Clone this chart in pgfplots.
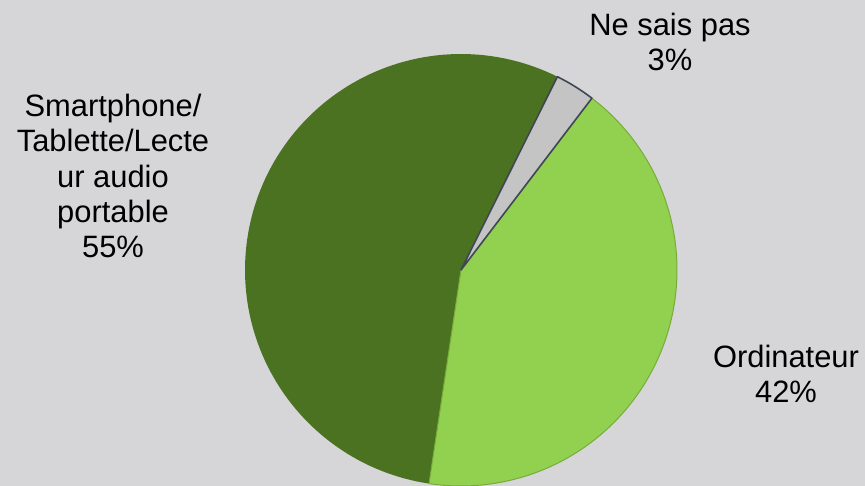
\documentclass[border=0pt]{standalone}
\usepackage{pgfplots}
\usepackage{pgfplotstable}
\usepackage{fontspec}
\setmainfont{Liberation Sans}
\pgfplotsset{compat=1.18}
\definecolor{bg}{HTML}{D6D6D8}
\definecolor{dkgreen}{HTML}{4A7220}
\definecolor{ltgreen}{HTML}{92D050}
\definecolor{ltedge}{HTML}{78AC3A}
\definecolor{grayslice}{HTML}{C4C4C4}
\definecolor{slate}{HTML}{3F4656}
\pgfplotstableread{
label value
Ordinateur 42
NSP 3
Smartphone 55
}\piedata
\begin{document}%
\begin{tikzpicture}[x=1bp,y=1bp]
\pgfplotstablegetelem{0}{value}\of\piedata \global\let\vOrd=\pgfplotsretval
\pgfplotstablegetelem{1}{value}\of\piedata \global\let\vNsp=\pgfplotsretval
\pgfplotstablegetelem{2}{value}\of\piedata \global\let\vSma=\pgfplotsretval
\pgfmathsetmacro{\aStart}{-98.5}
\pgfmathsetmacro{\aOrd}{\aStart+3.6*\vOrd}
\pgfmathsetmacro{\aNsp}{\aOrd+3.6*\vNsp}
\pgfmathsetmacro{\aSma}{\aNsp+3.6*\vSma}
\fill[bg] (0,0) rectangle (865bp,486bp);
\begin{axis}[
  at={(0,0)}, anchor=south west,
  scale only axis,
  width=865bp, height=486bp,
  xmin=0, xmax=865, ymin=0, ymax=486,
  hide axis,
  clip=true,
]
% Smartphone
\addplot[fill=dkgreen, draw=none, domain=\aNsp:\aSma, samples=120, variable=\t]
  ({461+216*cos(t)},{216+216*sin(t)}) -- (axis cs:461,216) -- cycle;
% Ordinateur
\addplot[fill=ltgreen, draw=ltedge, line width=1bp, domain=\aStart:\aOrd, samples=120, variable=\t]
  ({461+216*cos(t)},{216+216*sin(t)}) -- (axis cs:461,216) -- cycle;
% Ne sais pas
\addplot[fill=grayslice, draw=slate, line width=1.6bp, line join=round, domain=\aOrd:\aNsp, samples=20, variable=\t]
  ({461+216*cos(t)},{216+216*sin(t)}) -- (axis cs:461,216) -- cycle;

\node[font=\fontsize{31}{35.5}\selectfont, align=center, text=black] at (axis cs:113,310)
  {Smartphone/\\Tablette/Lecte\\ur audio\\portable\\\vSma\%};
\node[font=\fontsize{31}{35.5}\selectfont, align=center, text=black] at (axis cs:670,444)
  {Ne sais pas\\\vNsp\%};
\node[font=\fontsize{31}{35.5}\selectfont, align=center, text=black] at (axis cs:786,112)
  {Ordinateur\\\vOrd\%};
\end{axis}
\pgfresetboundingbox
\path[use as bounding box] (0,0) rectangle (865bp,486bp);
\end{tikzpicture}%
\end{document}
